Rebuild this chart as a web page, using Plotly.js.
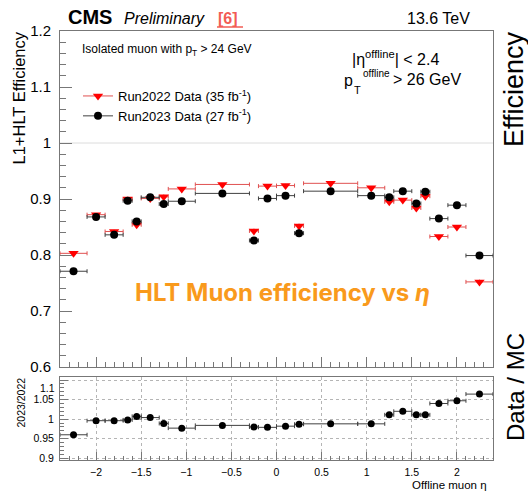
<!DOCTYPE html>
<html>
<head>
<meta charset="utf-8">
<script src="https://cdn.plot.ly/plotly-3.0.1.min.js"></script>
<style>html,body{margin:0;padding:0;background:#fff;}#chart{width:528px;height:492px;}</style>
</head>
<body>
<div id="chart"></div>
<script>
// ---- data ----
const etaCenters = [-2.25,-2.0,-1.8,-1.65,-1.55,-1.4,-1.25,-1.05,-0.6,-0.25,-0.1,0.1,0.25,0.6,1.05,1.25,1.4,1.55,1.65,1.8,2.0,2.25];
const etaHalfWidths = [0.15,0.1,0.1,0.05,0.05,0.1,0.05,0.15,0.3,0.05,0.1,0.1,0.05,0.3,0.15,0.05,0.1,0.05,0.05,0.1,0.1,0.15];
const eff2022 = [0.803,0.872,0.842,0.900,0.854,0.901,0.904,0.918,0.926,0.843,0.923,0.924,0.852,0.928,0.920,0.895,0.898,0.884,0.905,0.833,0.850,0.752];
const eff2022Err = [0.004,0.003,0.003,0.004,0.004,0.003,0.004,0.002,0.002,0.004,0.003,0.003,0.004,0.002,0.002,0.004,0.003,0.004,0.004,0.003,0.003,0.004];
const eff2023 = [0.771,0.868,0.836,0.897,0.860,0.903,0.891,0.896,0.910,0.826,0.901,0.906,0.839,0.914,0.906,0.903,0.914,0.892,0.913,0.865,0.889,0.799];
const eff2023Err = [0.003,0.003,0.003,0.003,0.003,0.003,0.003,0.002,0.002,0.003,0.002,0.002,0.003,0.002,0.002,0.003,0.003,0.003,0.003,0.003,0.003,0.003];
const ratio = [0.960,0.996,0.996,0.998,1.007,1.004,0.989,0.977,0.984,0.980,0.979,0.982,0.987,0.988,0.988,1.011,1.020,1.011,1.011,1.040,1.047,1.064];
const ratioErr = [0.004,0.003,0.003,0.004,0.004,0.003,0.004,0.003,0.002,0.004,0.003,0.003,0.004,0.002,0.003,0.004,0.003,0.004,0.004,0.004,0.004,0.005];
const label2022 = 'Run2022 Data (35 fb<sup>-1</sup>)';
const label2023 = 'Run2023 Data (27 fb<sup>-1</sup>)';
const yTickVals = [0.6,0.7,0.8,0.9,1.0,1.1,1.2];
const ratioTickVals = [0.9,0.95,1.0,1.05,1.1];
const ratioTickText = ['0.9','0.95','1','1.05',''];
const xTickVals = [-2,-1.5,-1,-0.5,0,0.5,1,1.5,2];

const FONT = 'Liberation Sans, Arial, Helvetica, sans-serif';
const RED = '#ff0000', RED_ERR = '#e05050';
const BLK = '#000000', BLK_ERR = '#404040';

// plot area in pixels
const L = 60, R = 493, T = 31, B = 460;
const W = R - L, H = B - T;
const px = x => (x - L) / W;
const py = y => (B - y) / H;

const traces = [
  {x: etaCenters, y: eff2022, xaxis: 'x2', yaxis: 'y', type: 'scatter', mode: 'markers', showlegend: false,
   marker: {symbol: 'triangle-down', size: 9, color: RED},
   error_x: {type: 'data', array: etaHalfWidths, color: RED_ERR, thickness: 1, width: 2},
   error_y: {type: 'data', array: eff2022Err, color: RED_ERR, thickness: 1, width: 0}},
  {x: etaCenters, y: eff2023, xaxis: 'x2', yaxis: 'y', type: 'scatter', mode: 'markers', showlegend: false,
   marker: {symbol: 'circle', size: 8, color: BLK},
   error_x: {type: 'data', array: etaHalfWidths, color: BLK_ERR, thickness: 1, width: 2},
   error_y: {type: 'data', array: eff2023Err, color: BLK_ERR, thickness: 1, width: 0}},
  {x: etaCenters, y: ratio, xaxis: 'x', yaxis: 'y2', type: 'scatter', mode: 'markers', showlegend: false,
   marker: {symbol: 'circle', size: 7, color: BLK},
   error_x: {type: 'data', array: etaHalfWidths, color: BLK_ERR, thickness: 1, width: 2},
   error_y: {type: 'data', array: ratioErr, color: BLK_ERR, thickness: 1, width: 0}},
  // legend entries
  {x: [null], y: [null], xaxis: 'x2', yaxis: 'y', type: 'scatter', mode: 'lines+markers', name: label2022,
   marker: {symbol: 'triangle-down', size: 9, color: RED}, line: {color: RED_ERR, width: 1}},
  {x: [null], y: [null], xaxis: 'x2', yaxis: 'y', type: 'scatter', mode: 'lines+markers', name: label2023,
   marker: {symbol: 'circle', size: 8, color: BLK}, line: {color: BLK_ERR, width: 1}}
];

const upperDomainBottom = (B - 367) / H;
const lowerDomainTop = (B - 376.7) / H;

function ann(text, x, y, opts) {
  return Object.assign({text: text, xref: 'paper', yref: 'paper', x: px(x), y: py(y),
    showarrow: false, xanchor: 'left', yanchor: 'middle',
    font: {family: FONT, size: 13, color: '#000'}}, opts || {});
}

const annotations = [
  ann('<b>CMS</b>', 66, 17, {font: {family: FONT, size: 20, color: '#000'}}),
  ann('<i>Preliminary</i>', 122, 18.5, {font: {family: FONT, size: 16, color: '#000'}}),
  ann('<b>[6]</b>', 216, 18.5, {font: {family: FONT, size: 16, color: '#f25c54', weight: 'bold'}}),
  ann('13.6 TeV', 472, 18.5, {xanchor: 'right', font: {family: FONT, size: 16, color: '#000'}}),
  ann('Isolated muon with p<sub>T</sub> > 24 GeV', 80, 50, {font: {family: FONT, size: 12, color: '#000'}}),
  ann('|η<sup>offline</sup>| < 2.4', 350, 58, {font: {family: FONT, size: 16, color: '#000'}}),
  ann('p', 342, 80, {font: {family: FONT, size: 16, color: '#000'}}),
  ann('offline', 361, 73.5, {font: {family: FONT, size: 10, color: '#000'}}),
  ann('T', 352, 89.5, {font: {family: FONT, size: 11, color: '#000'}}),
  ann('> 26 GeV', 391, 79, {font: {family: FONT, size: 16, color: '#000'}}),
  ann('L1+HLT Efficiency', 19, 98.5, {xanchor: 'center', textangle: -90, font: {family: FONT, size: 16.5, color: '#000'}}),
  ann('2023/2022', 20.5, 403, {xanchor: 'center', textangle: -90, font: {family: FONT, size: 10.5, color: '#000'}}),
  ann('1.1', 57, 388, {xanchor: 'right', font: {family: FONT, size: 10.5, color: '#000'}}),
  ann('Efficiency', 514, 89, {xanchor: 'center', textangle: -90, font: {family: FONT, size: 27, color: '#000'}}),
  ann('Data / MC', 515, 387, {xanchor: 'center', textangle: -90, font: {family: FONT, size: 24, color: '#000'}}),
  ann('Offline muon η', 489, 485, {xanchor: 'right', font: {family: FONT, size: 11.5, color: '#000'}}),
  ann('<b>HLT Muon efficiency vs <i>η</i></b>', 282, 292, {xanchor: 'center', font: {family: 'Inter, Lato, sans-serif', size: 24, color: '#f99a1c'}})
];

const AX = '#777';
const layout = {
  width: 528, height: 492,
  margin: {l: L, r: 528 - R, t: T, b: 492 - B, pad: 0},
  paper_bgcolor: '#fff', plot_bgcolor: '#fff',
  font: {family: FONT, size: 12, color: '#000'},
  showlegend: true,
  legend: {x: px(78), y: py(81), xanchor: 'left', yanchor: 'top', bgcolor: 'rgba(0,0,0,0)',
           borderwidth: 0, font: {family: FONT, size: 13, color: '#000'}, tracegroupgap: 0},
  xaxis: {anchor: 'y2', domain: [0, 1], range: [-2.4, 2.4], tickvals: xTickVals,
          ticks: 'inside', ticklen: 8, tickcolor: AX, tickwidth: 1,
          minor: {dtick: 0.1, ticks: 'inside', ticklen: 4, tickcolor: AX, showgrid: false},
          showline: true, linecolor: AX, linewidth: 1, mirror: true,
          showgrid: true, gridcolor: '#b5b5b5', griddash: 'dot', gridwidth: 1, zeroline: false,
          tickfont: {family: FONT, size: 10.5, color: '#000'}, ticklabelstandoff: 2},
  xaxis2: {anchor: 'y', matches: 'x', domain: [0, 1], range: [-2.4, 2.4], tickvals: xTickVals,
           ticks: 'inside', ticklen: 10, tickcolor: AX, tickwidth: 1,
           minor: {dtick: 0.1, ticks: 'inside', ticklen: 5, tickcolor: AX, showgrid: false},
           showticklabels: false, showline: true, linecolor: AX, linewidth: 1, mirror: true,
           showgrid: false, zeroline: false},
  yaxis: {anchor: 'x2', domain: [upperDomainBottom, 1], range: [0.6, 1.2], tickvals: yTickVals,
          ticks: 'inside', ticklen: 12, tickcolor: AX, tickwidth: 1,
          minor: {dtick: 0.02, ticks: 'inside', ticklen: 6, tickcolor: AX, showgrid: false},
          showline: true, linecolor: AX, linewidth: 1, mirror: true, showgrid: false, zeroline: false,
          tickfont: {family: FONT, size: 15, color: '#000'}, ticklabelstandoff: 5},
  yaxis2: {anchor: 'x', domain: [0, lowerDomainTop], range: [0.8955, 1.1085], tickvals: ratioTickVals,
           ticktext: ratioTickText,
           ticks: 'inside', ticklen: 8, tickcolor: AX, tickwidth: 1,
           minor: {dtick: 0.01, ticks: 'inside', ticklen: 4, tickcolor: AX, showgrid: false},
           showline: true, linecolor: AX, linewidth: 1, mirror: true,
           showgrid: true, gridcolor: '#b5b5b5', griddash: 'dot', gridwidth: 1, zeroline: false,
           tickfont: {family: FONT, size: 10.5, color: '#000'}, ticklabelstandoff: 3},
  shapes: [
    {type: 'line', xref: 'x2 domain', x0: 0, x1: 1, yref: 'y', y0: 1, y1: 1,
     line: {color: '#dcdcdc', width: 1}, layer: 'below'},
    {type: 'line', xref: 'paper', yref: 'paper', x0: px(217), x1: px(243), y0: py(27), y1: py(27),
     line: {color: '#f25c54', width: 1.5}}
  ],
  annotations: annotations
};

Plotly.newPlot('chart', traces, layout, {staticPlot: true, displayModeBar: false});
</script>
</body>
</html>
